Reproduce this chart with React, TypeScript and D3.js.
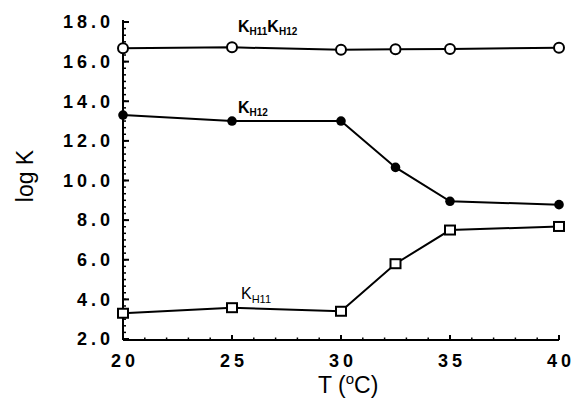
import React from "react";
import * as d3 from "d3";

const temps = [20, 25, 30, 32.5, 35, 40];
const kh11kh12 = [16.68, 16.72, 16.6, 16.62, 16.64, 16.7];
const kh12 = [13.3, 13.0, 13.0, 10.66, 8.95, 8.78];
const kh11 = [3.3, 3.58, 3.4, 5.8, 7.5, 7.68];
const yTicks = [2, 4, 6, 8, 10, 12, 14, 16, 18];
const xTicks = [20, 25, 30, 35, 40];

const W = 576;
const H = 404;

export default function App() {
  const x = d3.scaleLinear().domain([20, 40]).range([123, 559]);
  const y = d3.scaleLinear().domain([2, 18]).range([339, 22]);
  const line = d3
    .line<[number, number]>()
    .x((d) => x(d[0]))
    .y((d) => y(d[1]));
  const pts = (vals: number[]) => temps.map((t, i) => [t, vals[i]] as [number, number]);
  const yMinor = d3.range(2, 18.001, 1 / 3);
  const xMinor = d3.range(20, 40.001, 1);
  const tickFont = {
    fontFamily: "'Liberation Sans', Arial, sans-serif",
    fontWeight: 700 as const,
    fontSize: 18,
  };
  const x0 = x(20);
  const yb = 340;
  return (
    <svg
      width={W}
      height={H}
      style={{ position: "absolute", left: 0, top: 0, background: "#fff" }}
    >
      <rect width={W} height={H} fill="#fff" />
      {/* axes */}
      <line x1={x0} y1={20} x2={x0} y2={yb} stroke="#000" strokeWidth={2} />
      <line x1={x0} y1={yb} x2={x(40)} y2={yb} stroke="#000" strokeWidth={2} />
      {yMinor.map((v, i) => (
        <line key={"ym" + i} x1={x0} x2={x0 + 3} y1={y(v)} y2={y(v)} stroke="#000" strokeWidth={1.5} />
      ))}
      {yTicks.map((v) => (
        <line key={"yM" + v} x1={x0} x2={x0 + 6} y1={y(v)} y2={y(v)} stroke="#000" strokeWidth={2} />
      ))}
      {xMinor.map((v, i) => (
        <line key={"xm" + i} x1={x(v)} x2={x(v)} y1={yb} y2={yb - 2.5} stroke="#000" strokeWidth={1.5} />
      ))}
      {xTicks.map((v) => (
        <line key={"xM" + v} x1={x(v)} x2={x(v)} y1={yb} y2={yb - 5} stroke="#000" strokeWidth={2} />
      ))}
      {yTicks.map((v) => (
        <text
          key={"yl" + v}
          x={114}
          y={y(v)}
          dy="0.35em"
          textAnchor="end"
          letterSpacing={4}
          {...tickFont}
        >
          {d3.format(".1f")(v)}
        </text>
      ))}
      {xTicks.map((v) => (
        <text
          key={"xl" + v}
          x={x(v) + 2}
          y={367}
          textAnchor="middle"
          letterSpacing={4}
          {...tickFont}
        >
          {String(v)}
        </text>
      ))}
      {/* axis titles */}
      <text
        transform={`translate(33,${176}) rotate(-90)`}
        textAnchor="middle"
        fontFamily="'Liberation Sans', Arial, sans-serif"
        fontSize={23}
      >
        log K
      </text>
      <text x={318} y={393} fontFamily="'Liberation Sans', Arial, sans-serif" fontSize={23}>
        T (
        <tspan fontSize={15} dy={-9}>o</tspan>
        <tspan dy={9}>C)</tspan>
      </text>
      {/* lines */}
      {[kh11kh12, kh12, kh11].map((s, i) => (
        <path key={"l" + i} d={line(pts(s)) || ""} fill="none" stroke="#000" strokeWidth={2} />
      ))}
      {pts(kh11kh12).map((d, i) => (
        <circle key={"c" + i} cx={x(d[0])} cy={y(d[1])} r={5} fill="#fff" stroke="#000" strokeWidth={2} />
      ))}
      {pts(kh12).map((d, i) => (
        <circle key={"f" + i} cx={x(d[0])} cy={y(d[1])} r={4.8} fill="#000" />
      ))}
      {pts(kh11).map((d, i) => (
        <rect
          key={"s" + i}
          x={x(d[0]) - 5}
          y={y(d[1]) - 4.5}
          width={10}
          height={9}
          fill="#fff"
          stroke="#000"
          strokeWidth={2}
        />
      ))}
      {/* series labels */}
      <g fontFamily="'Liberation Sans', Arial, sans-serif" fontWeight={700}>
        <text x={238} y={32} fontSize={16}>
          K<tspan fontSize={10} dy={3}>H11</tspan>
          <tspan dy={-3}>K</tspan>
          <tspan fontSize={10} dy={3}>H12</tspan>
        </text>
        <text x={238} y={113} fontSize={16}>
          K<tspan fontSize={10} dy={3}>H12</tspan>
        </text>
        <text x={241} y={299} fontSize={16} fontWeight={400}>
          K<tspan fontSize={11} dy={4}>H11</tspan>
        </text>
      </g>
    </svg>
  );
}
